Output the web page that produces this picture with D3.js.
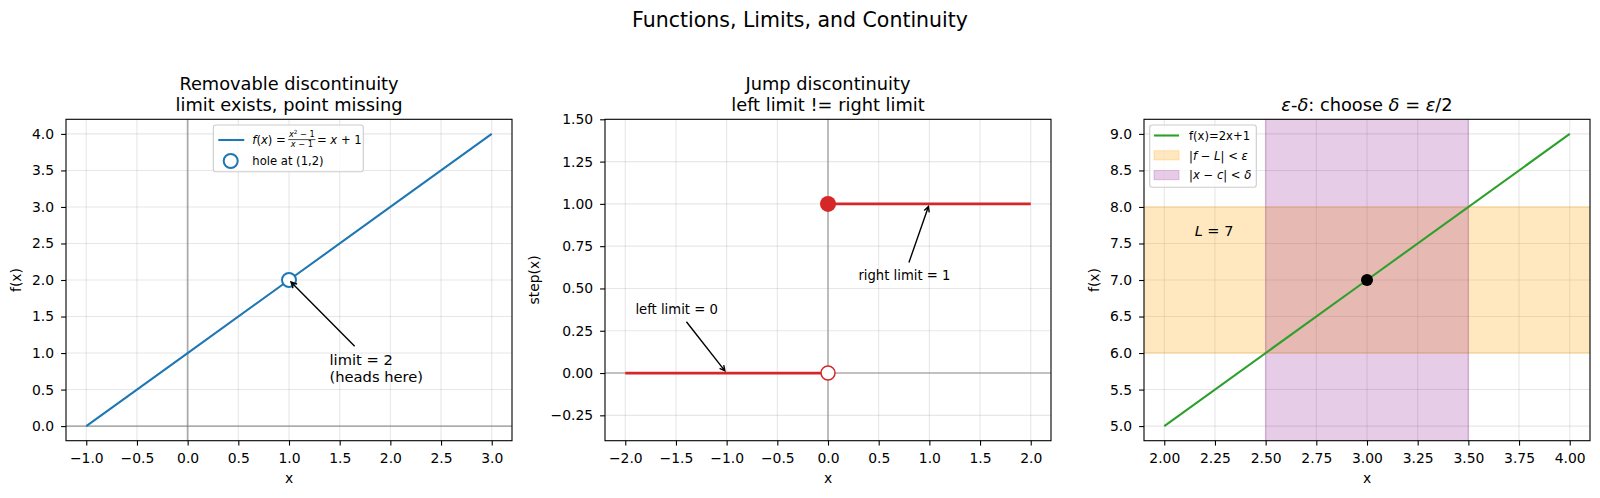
<!DOCTYPE html>
<html><head><meta charset="utf-8">
<script src="https://cdn.jsdelivr.net/npm/d3@7"></script>
<style>body{margin:0;background:#fff}svg{display:block;font-family:"DejaVu Sans",sans-serif}</style>
</head><body><svg id="c" width="1600" height="498"></svg>
<script>
// ---------------- data ----------------
const suptitle = "Functions, Limits, and Continuity";
// panel 1: removable discontinuity
const p1LineX = [-1, 0, 1, 2, 3];
const p1LineY = [0, 1, 2, 3, 4];
const p1Hole = [1, 2];
const p1XDomain = [-1.2, 3.2];
const p1YDomain = [-0.2, 4.2];
const p1XTicks = [-1.0, -0.5, 0.0, 0.5, 1.0, 1.5, 2.0, 2.5, 3.0];
const p1YTicks = [0.0, 0.5, 1.0, 1.5, 2.0, 2.5, 3.0, 3.5, 4.0];
const p1Title = ["Removable discontinuity", "limit exists, point missing"];
const p1AnnotLines = ["limit = 2", "(heads here)"];
const p1AnnotXY = [1, 2];
const p1AnnotText = [1.4, 0.6];
// panel 2: jump discontinuity
const p2LeftX = [-2, 0];
const p2LeftY = [0, 0];
const p2RightX = [0, 2];
const p2RightY = [1, 1];
const p2Closed = [0, 1];
const p2Open = [0, 0];
const p2XDomain = [-2.2, 2.2];
const p2YDomain = [-0.4, 1.5];
const p2XTicks = [-2.0, -1.5, -1.0, -0.5, 0.0, 0.5, 1.0, 1.5, 2.0];
const p2YTicks = [-0.25, 0.0, 0.25, 0.5, 0.75, 1.0, 1.25, 1.5];
const p2Title = ["Jump discontinuity", "left limit != right limit"];
const p2AnnotLeft = {text: "left limit = 0", xy: [-1, 0], xytext: [-1.9, 0.35]};
const p2AnnotRight = {text: "right limit = 1", xy: [1, 1], xytext: [0.3, 0.55]};
// panel 3: epsilon-delta
const p3LineX = [2, 3, 4];
const p3LineY = [5, 7, 9];
const p3EpsBand = [6, 8];
const p3DeltaBand = [2.5, 3.5];
const p3Point = [3, 7];
const p3XDomain = [1.9, 4.1];
const p3YDomain = [4.8, 9.2];
const p3XTicks = [2.0, 2.25, 2.5, 2.75, 3.0, 3.25, 3.5, 3.75, 4.0];
const p3YTicks = [5.0, 5.5, 6.0, 6.5, 7.0, 7.5, 8.0, 8.5, 9.0];
const p3LText = [2.15, 7.6];

// ---------------- layout ----------------
const svg = d3.select("#c");
const TOP = 119.3, BOT = 440.7, PW = 446;
const LEFTS = [66, 605, 1144];
const TICKF = 13.9, TITLEF = 17.8, SUPF = 20.5, LEGF = 11.6;
const BLUE = "#1f77b4", RED = "#d62728", GREEN = "#2ca02c";
const defs = svg.append("defs");

function runs(textSel, parts) {
  parts.forEach(([s, st]) => {
    const t = textSel.append("tspan").text(s);
    if (st === "i") t.attr("font-style", "italic");
  });
  return textSel;
}

function makePanel(i, xd, yd, xt, yt, xf, yf, xlabel, ylabel, ylabX, titleLines) {
  const L = LEFTS[i];
  const x = d3.scaleLinear().domain(xd).range([L, L + PW]);
  const y = d3.scaleLinear().domain(yd).range([BOT, TOP]);
  const g = svg.append("g");
  defs.append("clipPath").attr("id", "clip" + i).append("rect")
    .attr("x", L).attr("y", TOP).attr("width", PW).attr("height", BOT - TOP);
  const grid = g.append("g");
  const plot = g.append("g").attr("clip-path", `url(#clip${i})`);
  const gridLines = grid.append("g").attr("clip-path", `url(#clip${i})`);
  gridLines.selectAll("line.vx").data(xt).join("line").attr("class", "vx")
    .attr("x1", d => x(d)).attr("x2", d => x(d)).attr("y1", TOP).attr("y2", BOT);
  gridLines.selectAll("line.hy").data(yt).join("line").attr("class", "hy")
    .attr("y1", d => y(d)).attr("y2", d => y(d)).attr("x1", L).attr("x2", L + PW);
  gridLines.selectAll("line").attr("stroke", "#b0b0b0").attr("stroke-opacity", 0.3).attr("stroke-width", 1.1);

  const axes = g.append("g");
  const xa = axes.append("g").attr("transform", `translate(0,${BOT})`)
    .call(d3.axisBottom(x).tickValues(xt).tickFormat(xf).tickSize(4.9));
  xa.selectAll("text").attr("y", 22.7).attr("dy", 0);
  const ya = axes.append("g").attr("transform", `translate(${L},0)`)
    .call(d3.axisLeft(y).tickValues(yt).tickFormat(yf).tickSize(4.9).tickPadding(7));
  [xa, ya].forEach(a => {
    a.select(".domain").remove();
    a.attr("font-family", "DejaVu Sans").attr("font-size", TICKF);
    a.selectAll("line").attr("stroke", "#000").attr("stroke-width", 1.1);
    a.selectAll("text").attr("fill", "#000");
  });
  axes.append("rect").attr("x", L).attr("y", TOP).attr("width", PW).attr("height", BOT - TOP)
    .attr("fill", "none").attr("stroke", "#000").attr("stroke-width", 1.1);
  axes.append("text").attr("x", L + PW / 2).attr("y", 483).attr("text-anchor", "middle")
    .attr("font-size", TICKF).text(xlabel);
  axes.append("text").attr("transform", `translate(${ylabX},${(TOP + BOT) / 2}) rotate(-90)`)
    .attr("text-anchor", "middle").attr("font-size", TICKF).text(ylabel);
  if (titleLines) {
    const n = titleLines.length;
    titleLines.forEach((s, k) => {
      axes.append("text").attr("x", L + PW / 2).attr("y", 111 - (n - 1 - k) * 1.17 * TITLEF)
        .attr("text-anchor", "middle").attr("font-size", TITLEF).text(s);
    });
  }
  const top = g.append("g");
  return {x, y, plot, top, axes};
}

function arrow(layer, textSel, tx, ty, fontPx) {
  const b = textSel.node().getBBox();
  const cx = b.x + b.width / 2, cy = b.y + b.height / 2;
  const pad = 2.78, hw = b.width / 2 + pad, hh = b.height / 2 + pad;
  const dx = tx - cx, dy = ty - cy, len = Math.hypot(dx, dy);
  const ux = dx / len, uy = dy / len;
  const t = Math.min(Math.abs(dx) > 1e-9 ? hw / Math.abs(dx) : Infinity,
                     Math.abs(dy) > 1e-9 ? hh / Math.abs(dy) : Infinity);
  const sx = cx + dx * t + ux * 2.78, sy = cy + dy * t + uy * 2.78;
  const ex = tx - ux * 2.78, ey = ty - uy * 2.78;
  const hl = 0.4 * fontPx, hwid = 0.2 * fontPx;
  const bx = ex - ux * hl, by = ey - uy * hl, px = -uy, py = ux;
  layer.append("path")
    .attr("d", `M${sx},${sy}L${ex},${ey}M${bx + px * hwid},${by + py * hwid}L${ex},${ey}L${bx - px * hwid},${by - py * hwid}`)
    .attr("fill", "none").attr("stroke", "#000").attr("stroke-width", 1.39);
}

function legendBox(layer, x0, y0, w, h) {
  layer.append("rect").attr("x", x0).attr("y", y0).attr("width", w).attr("height", h)
    .attr("rx", 2.5).attr("fill", "#fff").attr("fill-opacity", 0.8)
    .attr("stroke", "#cccccc").attr("stroke-width", 1.1);
}

// suptitle
svg.append("text").attr("x", 800).attr("y", 27).attr("text-anchor", "middle")
  .attr("font-size", SUPF).text(suptitle);

const f1 = d3.format(".1f"), f2 = d3.format(".2f");

// ---------------- panel 1 ----------------
{
  const P = makePanel(0, p1XDomain, p1YDomain, p1XTicks, p1YTicks, f1, f1, "x", "f(x)", 21, p1Title);
  const {x, y, plot, top} = P;
  plot.append("line").attr("x1", x(0)).attr("x2", x(0)).attr("y1", TOP).attr("y2", BOT)
    .attr("stroke", "#808080").attr("stroke-opacity", 0.6).attr("stroke-width", 1.8);
  plot.append("line").attr("y1", y(0)).attr("y2", y(0)).attr("x1", LEFTS[0]).attr("x2", LEFTS[0] + PW)
    .attr("stroke", "#808080").attr("stroke-opacity", 0.8).attr("stroke-width", 1.1);
  plot.append("path").datum(p1LineX.map((v, k) => [v, p1LineY[k]]))
    .attr("d", d3.line().x(d => x(d[0])).y(d => y(d[1])))
    .attr("fill", "none").attr("stroke", BLUE).attr("stroke-width", 2.08);
  plot.append("circle").attr("cx", x(p1Hole[0])).attr("cy", y(p1Hole[1])).attr("r", 7)
    .attr("fill", "#fff").attr("stroke", BLUE).attr("stroke-width", 2);
  // annotation
  const AF = 14.7;
  const tx = x(p1AnnotText[0]), ty = y(p1AnnotText[1]);
  const at = top.append("text").attr("font-size", AF);
  p1AnnotLines.forEach((s, k) => {
    at.append("tspan").attr("x", tx).attr("y", ty - (p1AnnotLines.length - 1 - k) * 1.17 * AF).text(s);
  });
  arrow(top, at, x(p1AnnotXY[0]), y(p1AnnotXY[1]), AF);
  // legend
  legendBox(top, 213.3, 125, 150, 46.7);
  top.append("line").attr("x1", 218.3).attr("x2", 244.3).attr("y1", 140).attr("y2", 140)
    .attr("stroke", BLUE).attr("stroke-width", 2.08);
  const base = 144.2, x0 = 252.3;
  const t1 = runs(top.append("text").attr("x", x0).attr("y", base).attr("font-size", LEGF),
    [["f", "i"], ["(", ""], ["x", "i"], [")", ""], ["\u00a0=", ""]]);
  const w1 = t1.node().getComputedTextLength();
  const FF = 8.2;
  const fx = x0 + w1 + 2.5;
  const num = top.append("text").attr("y", base - 7.3).attr("font-size", FF);
  num.append("tspan").attr("font-style", "italic").text("x");
  num.append("tspan").attr("font-size", 5.6).attr("dy", -3.2).text("2");
  num.append("tspan").attr("dy", 3.2).text("\u00a0\u2212\u00a01");
  const den = runs(top.append("text").attr("y", base + 2.6).attr("font-size", FF),
    [["x", "i"], ["\u00a0\u2212\u00a01", ""]]);
  const wn = num.node().getComputedTextLength(), wd = den.node().getComputedTextLength();
  const fw = Math.max(wn, wd) + 1.5;
  num.attr("x", fx + (fw - wn) / 2);
  den.attr("x", fx + (fw - wd) / 2);
  top.append("line").attr("x1", fx).attr("x2", fx + fw).attr("y1", base - 4.6).attr("y2", base - 4.6)
    .attr("stroke", "#000").attr("stroke-width", 0.7);
  runs(top.append("text").attr("x", fx + fw + 1.5).attr("y", base).attr("font-size", LEGF),
    [["=\u00a0", ""], ["x", "i"], ["\u00a0+\u00a01", ""]]);
  top.append("circle").attr("cx", 230.7).attr("cy", 161).attr("r", 7)
    .attr("fill", "#fff").attr("stroke", BLUE).attr("stroke-width", 2);
  top.append("text").attr("x", x0).attr("y", 165.2).attr("font-size", LEGF).text("hole at (1,2)");
}

// ---------------- panel 2 ----------------
{
  const P = makePanel(1, p2XDomain, p2YDomain, p2XTicks, p2YTicks, f1, f2, "x", "step(x)", 539.3, p2Title);
  const {x, y, plot, top} = P;
  const L = LEFTS[1];
  plot.append("line").attr("x1", x(0)).attr("x2", x(0)).attr("y1", TOP).attr("y2", BOT)
    .attr("stroke", "#808080").attr("stroke-opacity", 0.85).attr("stroke-width", 1.1);
  plot.append("line").attr("y1", y(0)).attr("y2", y(0)).attr("x1", L).attr("x2", L + PW)
    .attr("stroke", "#808080").attr("stroke-opacity", 0.85).attr("stroke-width", 1.1);
  const ln = d3.line().x(d => x(d[0])).y(d => y(d[1]));
  plot.append("path").datum(p2LeftX.map((v, k) => [v, p2LeftY[k]])).attr("d", ln)
    .attr("fill", "none").attr("stroke", RED).attr("stroke-width", 2.78);
  plot.append("path").datum(p2RightX.map((v, k) => [v, p2RightY[k]])).attr("d", ln)
    .attr("fill", "none").attr("stroke", RED).attr("stroke-width", 2.78);
  plot.append("circle").attr("cx", x(p2Closed[0])).attr("cy", y(p2Closed[1])).attr("r", 8).attr("fill", RED);
  plot.append("circle").attr("cx", x(p2Open[0])).attr("cy", y(p2Open[1])).attr("r", 7)
    .attr("fill", "#fff").attr("stroke", RED).attr("stroke-width", 1.5);
  const AF = 13.2;
  [p2AnnotLeft, p2AnnotRight].forEach(a => {
    const t = top.append("text").attr("x", x(a.xytext[0])).attr("y", y(a.xytext[1]))
      .attr("font-size", AF).text(a.text);
    arrow(top, t, x(a.xy[0]), y(a.xy[1]), AF);
  });
}

// ---------------- panel 3 ----------------
{
  const P = makePanel(2, p3XDomain, p3YDomain, p3XTicks, p3YTicks, f2, f1, "x", "f(x)", 1099, null);
  const {x, y, plot, top, axes} = P;
  const L = LEFTS[2];
  // title with math
  runs(axes.append("text").attr("x", L + PW / 2).attr("y", 111).attr("text-anchor", "middle")
    .attr("font-size", TITLEF),
    [["\u03b5", "i"], ["-", ""], ["\u03b4", "i"], [": choose ", ""], ["\u03b4", "i"], ["\u00a0=\u00a0", ""], ["\u03b5", "i"], ["/2", ""]]);
  plot.append("rect").attr("x", L - 5).attr("width", PW + 10)
    .attr("y", y(p3EpsBand[1])).attr("height", y(p3EpsBand[0]) - y(p3EpsBand[1]))
    .attr("fill", "orange").attr("fill-opacity", 0.25)
    .attr("stroke", "orange").attr("stroke-opacity", 0.25).attr("stroke-width", 1.39);
  plot.append("rect").attr("x", x(p3DeltaBand[0])).attr("width", x(p3DeltaBand[1]) - x(p3DeltaBand[0]))
    .attr("y", TOP - 5).attr("height", BOT - TOP + 10)
    .attr("fill", "purple").attr("fill-opacity", 0.2)
    .attr("stroke", "purple").attr("stroke-opacity", 0.2).attr("stroke-width", 1.39);
  plot.append("path").datum(p3LineX.map((v, k) => [v, p3LineY[k]]))
    .attr("d", d3.line().x(d => x(d[0])).y(d => y(d[1])))
    .attr("fill", "none").attr("stroke", GREEN).attr("stroke-width", 2.08);
  plot.append("circle").attr("cx", x(p3Point[0])).attr("cy", y(p3Point[1])).attr("r", 6).attr("fill", "#000");
  runs(top.append("text").attr("x", x(p3LText[0])).attr("y", y(p3LText[1])).attr("font-size", 14.5),
    [["L", "i"], ["\u00a0=\u00a07", ""]]);
  // legend
  legendBox(top, 1149.7, 125, 106.6, 62.3);
  const rows = [135.5, 155.3, 175.1];
  top.append("line").attr("x1", 1154).attr("x2", 1179).attr("y1", rows[0]).attr("y2", rows[0])
    .attr("stroke", GREEN).attr("stroke-width", 2.08);
  top.append("rect").attr("x", 1154).attr("width", 25).attr("y", rows[1] - 4.6).attr("height", 9.2)
    .attr("fill", "orange").attr("fill-opacity", 0.25).attr("stroke", "orange").attr("stroke-opacity", 0.25);
  top.append("rect").attr("x", 1154).attr("width", 25).attr("y", rows[2] - 4.6).attr("height", 9.2)
    .attr("fill", "purple").attr("fill-opacity", 0.2).attr("stroke", "purple").attr("stroke-opacity", 0.2);
  const tx0 = 1189;
  top.append("text").attr("x", tx0).attr("y", rows[0] + 4.2).attr("font-size", LEGF).text("f(x)=2x+1");
  runs(top.append("text").attr("x", tx0).attr("y", rows[1] + 4.2).attr("font-size", LEGF),
    [["|", ""], ["f", "i"], ["\u00a0\u2212\u00a0", ""], ["L", "i"], ["|\u00a0<\u00a0", ""], ["\u03b5", "i"]]);
  runs(top.append("text").attr("x", tx0).attr("y", rows[2] + 4.2).attr("font-size", LEGF),
    [["|", ""], ["x", "i"], ["\u00a0\u2212\u00a0", ""], ["c", "i"], ["|\u00a0<\u00a0", ""], ["\u03b4", "i"]]);
}
</script></body></html>
